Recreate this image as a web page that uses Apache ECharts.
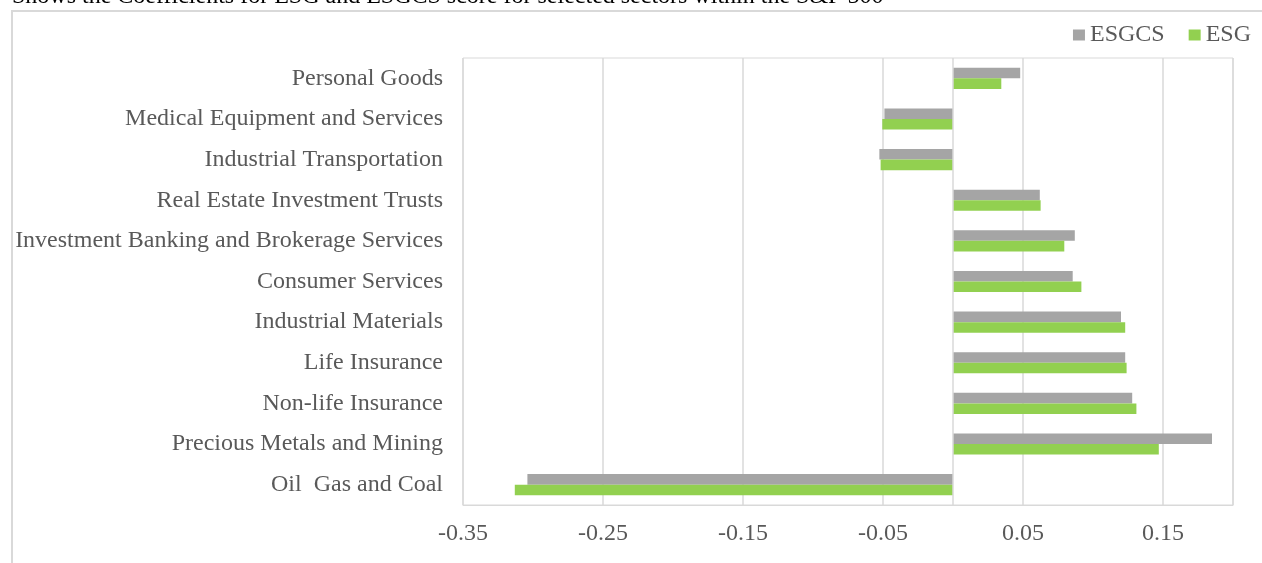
<!DOCTYPE html>
<html>
<head>
<meta charset="utf-8">
<script src="https://cdn.jsdelivr.net/npm/echarts@6/dist/echarts.min.js"></script>
<style>
  html, body { margin: 0; padding: 0; background: #fff; }
  #chart { width: 1262px; height: 563px; }
</style>
</head>
<body>
<div id="chart"></div>
<script>
// Sectors, listed bottom to top as they appear on the category axis
const sectors = [
  'Oil  Gas and Coal',
  'Precious Metals and Mining',
  'Non-life Insurance',
  'Life Insurance',
  'Industrial Materials',
  'Consumer Services',
  'Investment Banking and Brokerage Services',
  'Real Estate Investment Trusts',
  'Industrial Transportation',
  'Medical Equipment and Services',
  'Personal Goods'
];

// Coefficients per sector (same order as sectors)
const esgcs = [-0.304, 0.185, 0.128, 0.123, 0.120, 0.0855, 0.087, 0.062, -0.0526, -0.049, 0.048];
const esg   = [-0.313, 0.147, 0.131, 0.124, 0.123, 0.0917, 0.0795, 0.0626, -0.0517, -0.0505, 0.0345];

// Value axis settings
const axisMin = -0.35;
const axisMax = 0.2;
const axisStep = 0.1;

const serif = "'Liberation Serif', 'Times New Roman', serif";
const textGrey = '#595959';
const lineGrey = '#D9D9D9';

const chart = echarts.init(document.getElementById('chart'), null, { renderer: 'canvas' });

chart.setOption({
  animation: false,
  backgroundColor: '#ffffff',
  graphic: [
    {
      type: 'rect',
      shape: { x: 12, y: 11, width: 1400, height: 700 },
      style: { fill: 'none', stroke: lineGrey, lineWidth: 2 },
      silent: true,
      z: -10
    },
    {
      type: 'text',
      x: 12,
      y: -15,
      style: {
        text: 'Shows the Coefficients for ESG and ESGCS score for selected sectors within the S&P 500',
        fontFamily: serif,
        fontSize: 24,
        fontWeight: 'normal',
        fill: '#000000'
      },
      silent: true
    }
  ],
  legend: {
    data: ['ESGCS', 'ESG'],
    right: 6,
    top: 18,
    icon: 'rect',
    itemWidth: 12,
    itemHeight: 11,
    itemGap: 24,
    textStyle: { fontFamily: serif, fontSize: 24, color: textGrey }
  },
  grid: {
    left: 463,
    top: 58,
    width: 770,
    height: 447,
    show: true,
    borderColor: lineGrey,
    borderWidth: 1
  },
  xAxis: {
    type: 'value',
    min: axisMin,
    max: axisMax,
    interval: axisStep,
    axisLine: { show: true, lineStyle: { color: lineGrey, width: 1 } },
    axisTick: { show: false },
    splitLine: { show: true, lineStyle: { color: lineGrey, width: 1.5 } },
    axisLabel: {
      showMaxLabel: false,
      margin: 17,
      fontFamily: serif,
      fontSize: 24,
      color: textGrey,
      formatter: v => (Math.abs(v - axisMax) < 1e-9 ? '' : v.toFixed(2))
    }
  },
  yAxis: {
    type: 'category',
    data: sectors,
    axisLine: { show: false },
    axisTick: { show: false },
    splitLine: { show: false },
    axisLabel: {
      margin: 20,
      fontFamily: serif,
      fontSize: 24,
      color: textGrey
    }
  },
  series: [
    {
      name: 'ESGCS',
      type: 'bar',
      data: esgcs,
      itemStyle: { color: '#A5A5A5' },
      barGap: '0%',
      barCategoryGap: '48%',
      markLine: {
        silent: true,
        symbol: 'none',
        label: { show: false },
        lineStyle: { color: lineGrey, type: 'solid', width: 1.5 },
        data: [{ xAxis: 0 }]
      }
    },
    {
      name: 'ESG',
      type: 'bar',
      data: esg,
      itemStyle: { color: '#92D050' },
      barGap: '0%',
      barCategoryGap: '48%'
    }
  ]
});
</script>
</body>
</html>
